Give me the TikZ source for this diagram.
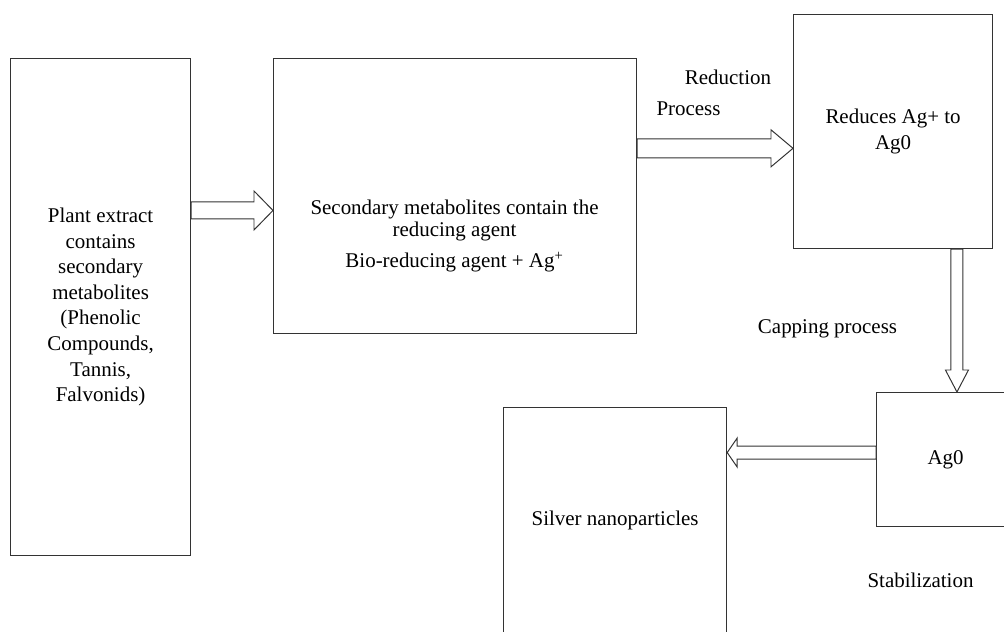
\documentclass[tikz,border=0pt]{standalone}
\usepackage{fontspec}
\setmainfont{Liberation Serif}
\usetikzlibrary{calc,positioning}

% hollow block arrow: from, to, shaft half width, head half width, head length
\newcommand{\hollowarrow}[5]{%
  \coordinate (hb) at ($(#2)!#5!(#1)$);
  \draw[fatarrow]
    ($(#1)!#3!90:(#2)$) -- ($(hb)!#3!-90:(#1)$) -- ($(hb)!#4!-90:(#1)$) -- (#2)
    -- ($(hb)!#4!90:(#1)$) -- ($(hb)!#3!90:(#1)$) -- ($(#1)!#3!-90:(#2)$) -- cycle;
}

\begin{document}
\begin{tikzpicture}[
  x=0.025cm,y=-0.025cm,
  font=\fontsize{14.9}{18.2}\selectfont,
  stage/.style={draw=black!80,line width=.8pt,inner sep=0pt,anchor=north west,align=center},
  tag/.style={anchor=base},
  fatarrow/.style={draw=black!80,line width=.7pt,fill=white,line join=miter}
]
  \useasboundingbox (0,0) rectangle (1004,631);
  \clip (0,0) rectangle (1004,631);

  % boxes
  \node[stage,minimum width=4.5cm,minimum height=12.425cm] (plant) at (10,58)
    {Plant extract\\contains\\secondary\\metabolites\\(Phenolic\\Compounds,\\Tannis,\\Falvonids)};
  \node[stage,minimum width=9.075cm,minimum height=6.875cm] (sec) at (273,58) {};
  \node[align=center,font=\fontsize{14.9}{15.6}\selectfont] (secText) at (454.5,236)
    {Secondary metabolites contain the\\reducing agent\\[7pt]Bio-reducing agent + Ag\textsuperscript{+}};
  \node[stage,minimum width=4.975cm,minimum height=5.85cm] (red) at (793,14)
    {Reduces Ag+ to\\Ag0};
  \node[stage,minimum width=3.45cm,minimum height=3.35cm] (ag) at (876,392) {Ag0};
  \node[stage,minimum width=5.575cm,minimum height=5.65cm] (silver) at (503,407)
    {Silver nanoparticles};

  % labels
  \node[tag] (redLbl) at (728,84) {Reduction};
  \node[tag] (procLbl) at (688.5,115) {Process};
  \node[tag] (capLbl) at (827.5,333) {Capping process};
  \node[tag] (stabLbl) at (920.5,587) {Stabilization};

  % arrows
  \coordinate (a1) at ($(plant.north east)!0.306!(plant.south east)$);
  \coordinate (b1) at (sec.west |- a1);
  \hollowarrow{a1}{b1}{0.2125cm}{0.4875cm}{0.475cm}
  \coordinate (a2) at ($(sec.north east)!0.327!(sec.south east)$);
  \coordinate (b2) at (red.west |- a2);
  \hollowarrow{a2}{b2}{0.2375cm}{0.4625cm}{0.55cm}
  \coordinate (a3) at ($(red.south west)!0.819!(red.south east)$);
  \coordinate (b3) at (ag.north -| a3);
  \hollowarrow{a3}{b3}{0.15cm}{0.2875cm}{0.55cm}
  \coordinate (a4) at ($(ag.north west)!0.448!(ag.south west)$);
  \coordinate (b4) at (silver.east |- a4);
  \hollowarrow{a4}{b4}{0.1625cm}{0.3625cm}{0.25cm}
\end{tikzpicture}
\end{document}
